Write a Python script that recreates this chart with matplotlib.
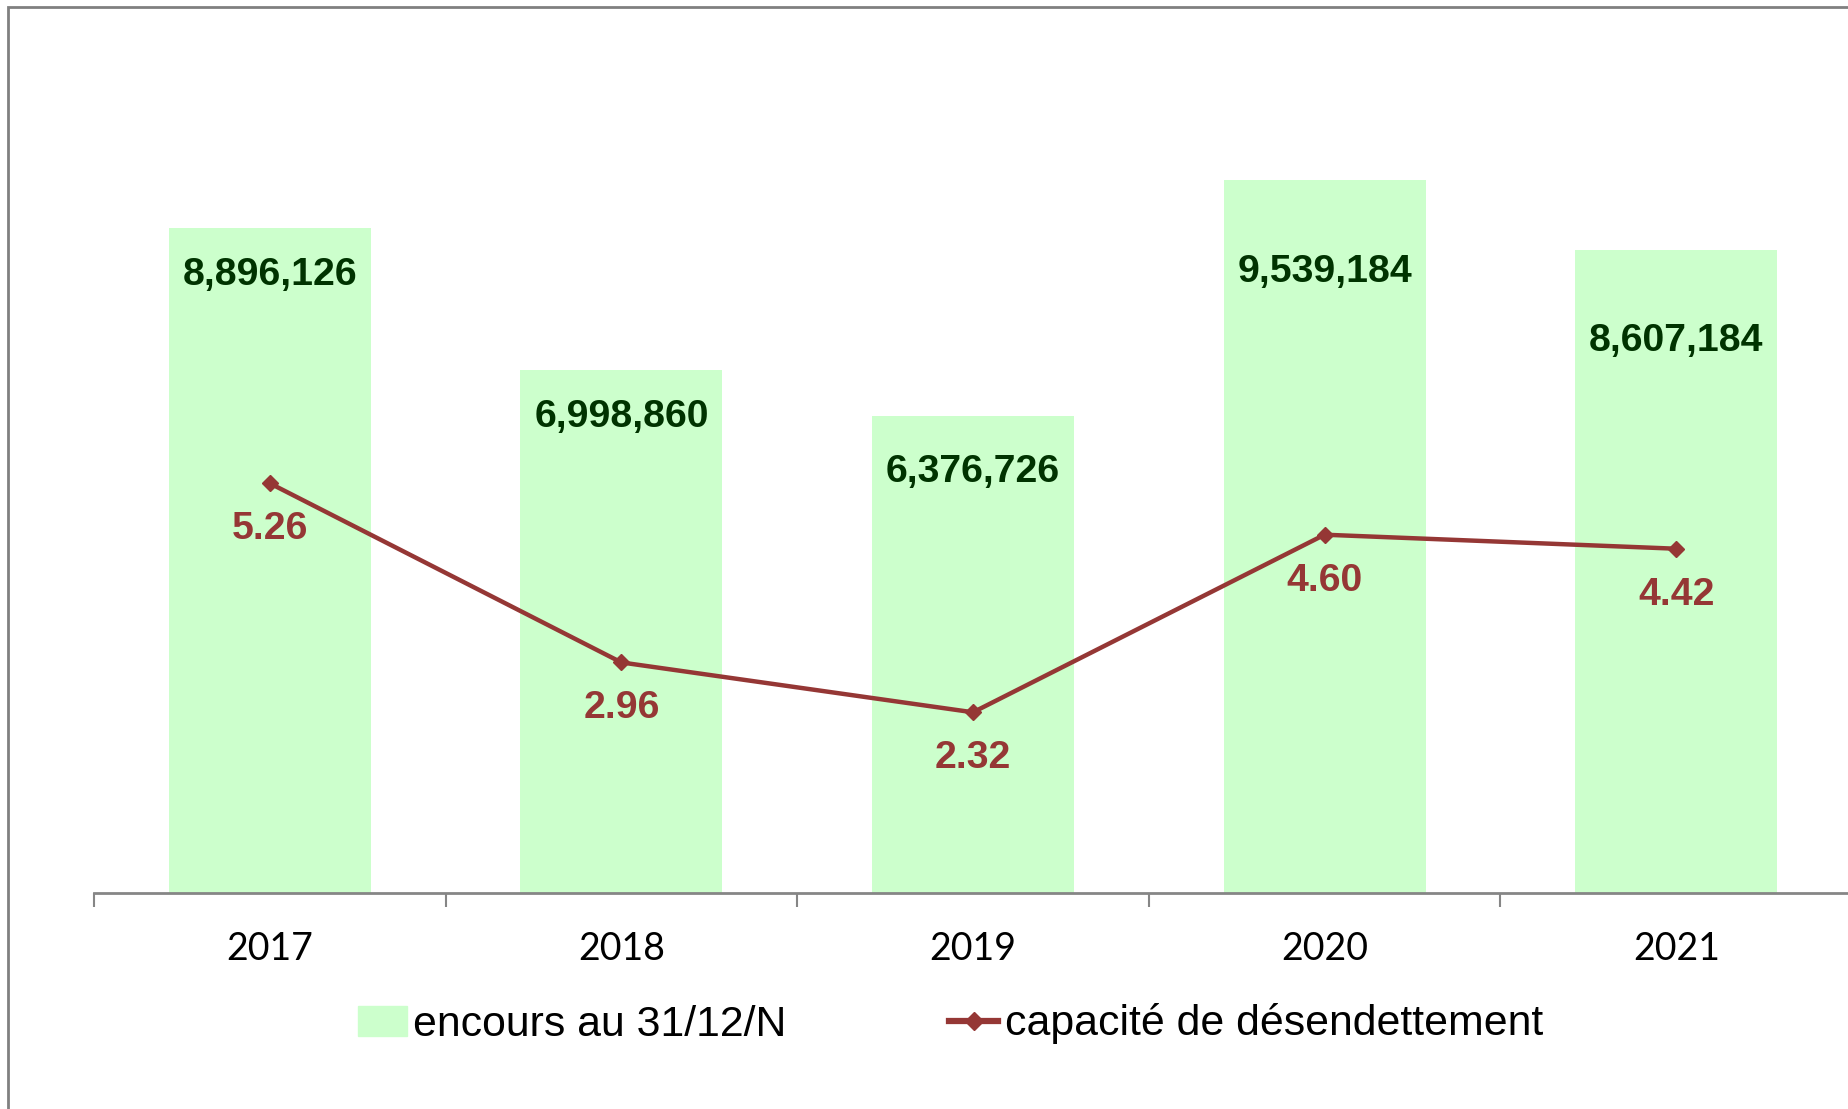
import matplotlib.pyplot as plt
import matplotlib.patches as mpatches
import numpy as np

years = ['2017', '2018', '2019', '2020', '2021']
encours = [8896126, 6998860, 6376726, 9539184, 8607184]
capacite = [5.26, 2.96, 2.32, 4.60, 4.42]

# label offsets below the top of each bar (points), as placed in the original
bar_lab_off = [-34, -34, -40, -66, -66]

bar_col = '#CCFFCC'
line_col = '#953735'
grey = '#868686'

fig = plt.figure(figsize=(18.49, 11.09), dpi=100)
# axes: bottom at y=893px, left at x=94px, right edge just past the figure
ax = fig.add_axes([94/1849, 216/1109, 1758/1849, 850/1109])
ax2 = ax.twinx()

x = np.arange(len(years))
ax.bar(x, encours, width=0.574, color=bar_col, zorder=1)
ax.set_xlim(-0.5, 4.5)
ax.set_ylim(0, 850/74.76*1e6)
ax2.set_ylim(0, 850/77.89)

for xi, v, off in zip(x, encours, bar_lab_off):
    ax.annotate(f'{v:,}', (xi, v), xytext=(0, off), textcoords='offset points',
                ha='center', va='center', fontsize=28.3, fontweight='bold',
                color='#003300', family='Liberation Sans')

ax2.plot(x, capacite, color=line_col, lw=3.2, marker='D', ms=8.5, zorder=3)
for xi, v in zip(x, capacite):
    ax2.annotate(f'{v:.2f}', (xi, v), xytext=(0, -33), textcoords='offset points',
                 ha='center', va='center', fontsize=28.3, fontweight='bold',
                 color=line_col, family='Liberation Sans')

for a in (ax, ax2):
    for s in a.spines.values():
        s.set_visible(False)
    a.set_yticks([])
ax.spines['bottom'].set_visible(True)
ax.spines['bottom'].set_color(grey)
ax.spines['bottom'].set_linewidth(2)

ax.set_xticks(np.arange(-0.5, 5, 1))
ax.set_xticklabels([])
ax.tick_params(axis='x', which='major', direction='out', length=10, width=1.5, color=grey)
ax.set_xticks(x, minor=True)
ax.set_xticklabels(years, minor=True, fontsize=27, family='Lato')
ax.tick_params(axis='x', which='minor', length=0, pad=27)

handles = [mpatches.Patch(color=bar_col, label='encours au 31/12/N'),
           plt.Line2D([], [], color=line_col, lw=4.5, marker='D', ms=9,
                      label='capacité de désendettement')]
fig.legend(handles=handles, loc='center', bbox_to_anchor=(0.514, 1 - 1024/1109),
           ncol=2, frameon=False, prop={'family': 'Liberation Sans', 'size': 30.8},
           handlelength=1.15, handletextpad=0.15, columnspacing=3.8)

# grey chart border (only left and top are in view)
fig.patches.append(mpatches.Rectangle((8/1849, -0.1), 1.2, 1.1 - 7/1109, fill=False,
                                      edgecolor='#808080', lw=2,
                                      transform=fig.transFigure, figure=fig))

fig.savefig('out.png', dpi=100)
